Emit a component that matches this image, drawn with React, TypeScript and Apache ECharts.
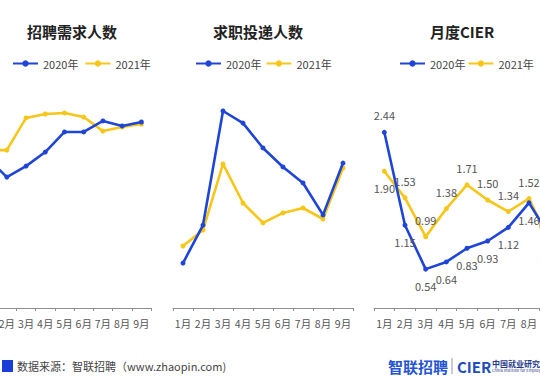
import React, { useEffect, useRef } from "react";
import * as echarts from "echarts";

const months = ["1月", "2月", "3月", "4月", "5月", "6月", "7月", "8月", "9月"];
const seriesNames = ["2020年", "2021年"];
const titles = ["招聘需求人数", "求职投递人数", "月度CIER"];
// relative index values (no y axis shown in the source)
const demand2020 = [69.4, 60.6, 65.7, 72.2, 81.5, 81.5, 86.6, 84.3, 86.1];
const demand2021 = [73.1, 73.1, 88.0, 89.8, 90.3, 88.4, 81.9, 83.8, 85.2];
const apply2020 = [20.8, 38.4, 91.2, 85.6, 74.1, 65.3, 57.9, 43.1, 67.1];
const apply2021 = [28.7, 36.1, 66.7, 48.6, 39.4, 44.0, 46.3, 41.2, 64.8];
const cier2020 = [2.44, 1.15, 0.54, 0.64, 0.83, 0.93, 1.12, 1.46, 1.0];
const cier2021 = [1.9, 1.53, 0.99, 1.38, 1.71, 1.5, 1.34, 1.52, 0.92];

const BLUE = "#1f45d6";
const YELLOW = "#f6c61a";
const FONT = "'Noto Sans CJK SC', 'Noto Sans', sans-serif";
const OFF = 40; // container is shifted left by this many px

export default function App() {
  const ref = useRef<HTMLDivElement>(null);
  useEffect(() => {
    if (!ref.current) return;
    const chart = echarts.init(ref.current, null, { renderer: "svg" });
    const grids = [
      { left: -22 + OFF, width: 173 },
      { left: 173 + OFF, width: 180 },
      { left: 374 + OFF, width: 186 },
    ];
    const titleLefts = [27, 213, 430];
    const legendLefts = [12, 195, 399];
    const legendGaps = [6, 4, 2];
    const maxes = [100, 100, 3];
    const lineSeries = (name: string, color: string, idx: number, data: any[], z: number, extra: any = {}) => ({
      type: "line",
      name,
      xAxisIndex: idx,
      yAxisIndex: idx,
      data,
      z,
      symbol: "circle",
      symbolSize: 5,
      lineStyle: { width: 2.6, color },
      itemStyle: { color },
      ...extra,
    });
    const lbl = {
      show: true,
      distance: 9,
      fontSize: 11,
      color: "#555",
      fontFamily: FONT,
      formatter: (p: any) => Number(p.value).toFixed(2),
    };
    const option: any = {
      animation: false,
      textStyle: { fontFamily: FONT },
      title: titles.map((t, i) => ({
        text: t,
        left: titleLefts[i] + OFF,
        top: 24,
        padding: 0,
        textStyle: { fontSize: 15, fontWeight: "bold", color: "#222", fontFamily: FONT },
      })),
      legend: legendLefts.map((l, i) => ({
        data: seriesNames,
        left: l + OFF,
        top: 58,
        padding: 0,
        itemWidth: 25,
        itemHeight: 8,
        itemGap: legendGaps[i],
        textStyle: { fontSize: 11, color: "#444", fontFamily: FONT },
      })),
      grid: grids.map((g) => ({ left: g.left, width: g.width, top: 92, bottom: 74 })),
      xAxis: grids.map((_, i) => ({
        type: "category",
        gridIndex: i,
        data: months,
        boundaryGap: true,
        axisLine: { lineStyle: { color: "#8f8f8f", width: 1 } },
        axisTick: { show: true, length: 3, lineStyle: { color: "#8f8f8f" } },
        axisLabel: { interval: 0, fontSize: 10.5, color: "#555", margin: 10, fontFamily: FONT },
      })),
      yAxis: grids.map((_, i) => ({
        type: "value",
        gridIndex: i,
        min: 0,
        max: maxes[i],
        show: false,
        splitLine: { show: false },
      })),
      series: [
        lineSeries(seriesNames[1], YELLOW, 0, demand2021, 2),
        lineSeries(seriesNames[0], BLUE, 0, demand2020, 3),
        lineSeries(seriesNames[1], YELLOW, 1, apply2021, 2),
        lineSeries(seriesNames[0], BLUE, 1, apply2020, 3),
        lineSeries(
          seriesNames[1],
          YELLOW,
          2,
          cier2021.map((v, i) => ({ value: v, label: { position: i === 0 ? "bottom" : "top" } })),
          2,
          { label: lbl }
        ),
        lineSeries(
          seriesNames[0],
          BLUE,
          2,
          cier2020.map((v, i) => ({ value: v, label: { position: i === 0 ? "top" : "bottom" } })),
          3,
          { label: lbl }
        ),
      ],
      graphic: [
        { type: "rect", shape: { x: 2 + OFF, y: 360, width: 11, height: 12 }, style: { fill: "#1a3fd8" } },
        {
          type: "text",
          x: 17 + OFF,
          y: 366,
          style: {
            text: "数据来源：智联招聘（www.zhaopin.com)",
            fontSize: 11,
            fill: "#444",
            fontFamily: FONT,
            verticalAlign: "middle",
          },
        },
        {
          type: "text",
          x: 388 + OFF,
          y: 366,
          style: { text: "智联招聘", fontSize: 15, fontWeight: "bold", fill: "#2453d4", fontFamily: FONT, verticalAlign: "middle" },
        },
        { type: "line", shape: { x1: 452 + OFF, y1: 358, x2: 452 + OFF, y2: 374 }, style: { stroke: "#999", lineWidth: 1 } },
        {
          type: "text",
          x: 457 + OFF,
          y: 366,
          style: { text: "CIER", fontSize: 15, fontWeight: "bold", fill: "#1f4bbf", fontFamily: FONT, verticalAlign: "middle" },
        },
        {
          type: "text",
          x: 492 + OFF,
          y: 363,
          style: { text: "中国就业研究所", fontSize: 8, fontWeight: "bold", fill: "#1f3a8a", fontFamily: FONT, verticalAlign: "middle" },
        },
        {
          type: "text",
          x: 492 + OFF,
          y: 370,
          style: { text: "China Institute for Employment Research", fontSize: 4, fill: "#1f3a8a", fontFamily: FONT, verticalAlign: "middle" },
        },
      ],
    };
    chart.setOption(option);
    return () => chart.dispose();
  }, []);
  return (
    <div
      ref={ref}
      style={{ position: "fixed", left: -OFF, top: 0, width: 620, height: 382, background: "#fff" }}
    />
  );
}
